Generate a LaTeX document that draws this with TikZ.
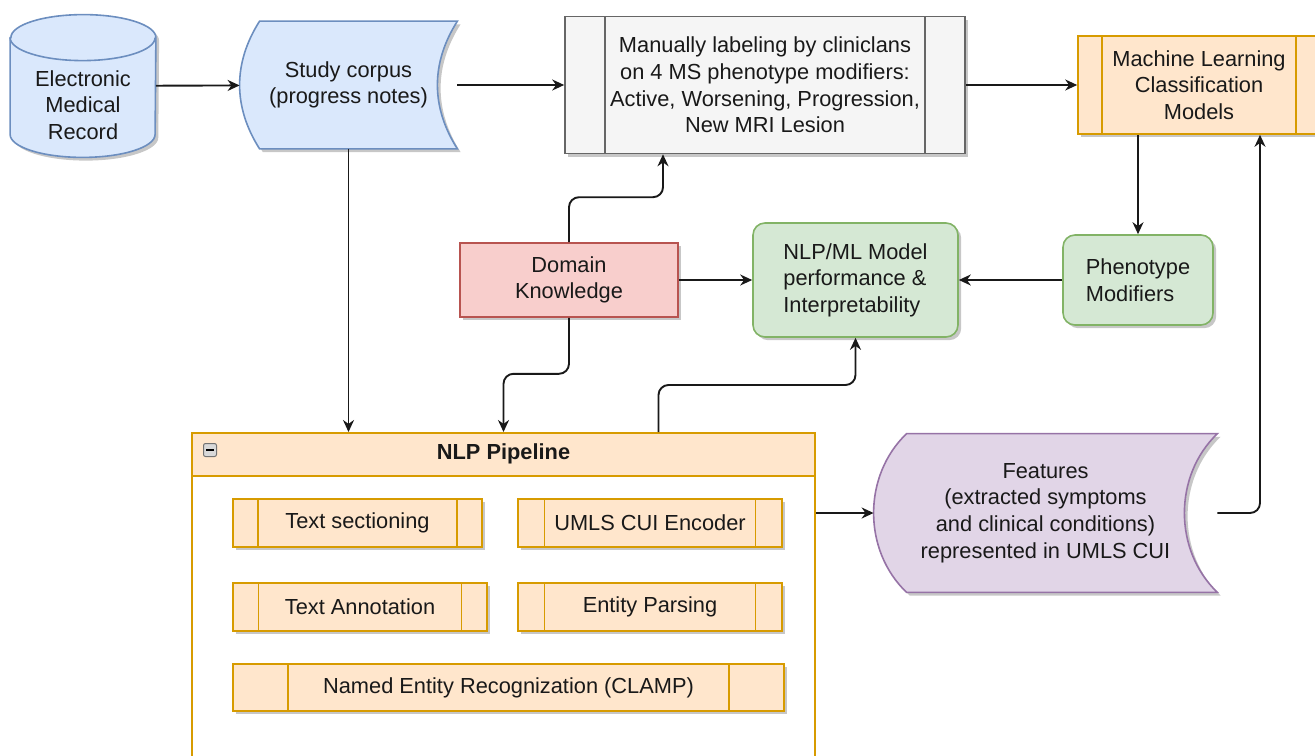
\documentclass[tikz,border=0pt]{standalone}
\usepackage{fontspec}
\setmainfont{Liberation Sans}
\usetikzlibrary{arrows.meta,positioning,calc,shadows,backgrounds}
\definecolor{bluefill}{HTML}{DAE8FC}\definecolor{blueline}{HTML}{6C8EBF}
\definecolor{grayfill}{HTML}{F5F5F5}\definecolor{grayline}{HTML}{666666}
\definecolor{orgfill}{HTML}{FFE6CC}\definecolor{orgline}{HTML}{D79B00}
\definecolor{grnfill}{HTML}{D5E8D4}\definecolor{grnline}{HTML}{82B366}
\definecolor{redfill}{HTML}{F8CECC}\definecolor{redline}{HTML}{B85450}
\definecolor{purfill}{HTML}{E1D5E7}\definecolor{purline}{HTML}{9673A6}
\newcommand{\storepath}[3]{($(#1.north west)+(#2,0)$) -- (#1.north east) .. controls ($(#1.north east)+({-4/3*#2},#3)$) and ($(#1.south east)+({-4/3*#2},-#3)$) .. (#1.south east) -- ($(#1.south west)+(#2,0)$) .. controls ($(#1.south west)+({-#2/3},-#3)$) and ($(#1.north west)+({-#2/3},#3)$) .. cycle}
\newcommand{\canpath}[3]{($(#1.north west)+(0,#3)$) -- ($(#1.south west)+(0,-#3)$) arc[start angle=180,end angle=0,x radius=#2,y radius=#3] -- ($(#1.north east)+(0,#3)$) arc[start angle=0,end angle=-180,x radius=#2,y radius=#3] -- cycle}
\begin{document}
\begin{tikzpicture}[
		x=0.5pt,y=-0.5pt,
		font=\fontsize{10.9}{13.3}\selectfont,
		box/.style={draw=#1,line width=0.8pt,align=center,inner sep=0pt,text=black!90},
		shadowed/.style={drop shadow={shadow xshift=1.6pt,shadow yshift=-1.6pt,fill=black,opacity=0.22}},
		proc/.style={box=#1,shadowed,path picture={
				\draw[#1,line width=0.8pt] ($(path picture bounding box.north west)!0.1!(path picture bounding box.north east)$) -- ($(path picture bounding box.south west)!0.1!(path picture bounding box.south east)$)
				($(path picture bounding box.north west)!0.9!(path picture bounding box.north east)$) -- ($(path picture bounding box.south west)!0.9!(path picture bounding box.south east)$);}},
		arr/.style={-{Stealth[length=6pt,width=5.5pt]},line width=0.95pt,black!90},
		elbow/.style={arr,rounded corners=5pt}
		]
		\useasboundingbox (0,0) rectangle (1315,755);
		\clip (0,0) rectangle (1315,755);
		
		\node[minimum width=72.5pt,minimum height=71pt,inner sep=0pt] (emr) at (83,86) {};
		\node[align=center,text=black!90] (emrtxt) at (83,105) {Electronic\\Medical\\Record};
		\node[align=center,text=black!90,minimum width=108.5pt,minimum height=63.5pt] (corpus) at (348.5,85) {Study corpus\\(progress notes)};
		\node[proc=grayline,fill=grayfill,minimum width=200pt,minimum height=68.5pt] (manual) at (765,85) {Manually labeling by cliniclans\\on 4 MS phenotype modifiers:\\Active, Worsening, Progression,\\New MRI Lesion};
		\node[proc=orgline,fill=orgfill,minimum width=121pt,minimum height=49pt] (ml) at (1199,85) {Machine Learning\\Classification\\Models};
		
		\node[box=redline,fill=redfill,shadowed,minimum width=109pt,minimum height=37pt] (domain) at (569,280) {Domain\\Knowledge};
		\node[box=grnline,fill=grnfill,shadowed,rounded corners=6pt,align=left,minimum width=102.5pt,minimum height=57pt] (perf) at (855.5,280) {NLP/ML Model\\performance \&\\Interpretability};
		\node[box=grnline,fill=grnfill,shadowed,rounded corners=6pt,align=left,minimum width=75pt,minimum height=45pt] (pheno) at (1138,280) {Phenotype\\Modifiers};
		
		\node[box=orgline,fill=white,anchor=north,minimum width=311.5pt,minimum height=175pt] (pipe) at (503.5,432) {};
		\node[box=orgline,fill=orgfill,anchor=north,minimum width=311.5pt,minimum height=21.5pt] (pipehead) at (503.5,432) {\bfseries NLP Pipeline};
		\node[draw=black!55,fill=black!15,rounded corners=1pt,minimum size=6.5pt,inner sep=0pt,line width=0.5pt] (fold) at (210,450) {};
		\draw[line width=1pt] ([xshift=-2pt]fold.center) -- ([xshift=2pt]fold.center);
		\node[proc=orgline,fill=orgfill,minimum width=124.5pt,minimum height=24pt] (sect) at (357.5,523) {Text sectioning};
		\node[proc=orgline,fill=orgfill,minimum width=132pt,minimum height=24pt] (umls) at (650,523) {UMLS CUI Encoder};
		\node[proc=orgline,fill=orgfill,minimum width=127pt,minimum height=24pt] (annot) at (360,607) {Text Annotation};
		\node[proc=orgline,fill=orgfill,minimum width=132pt,minimum height=24pt] (parse) at (650,607) {Entity Parsing};
		\node[proc=orgline,fill=orgfill,minimum width=275.5pt,minimum height=23.5pt] (ner) at (508.5,687.5) {Named Entity Recognization (CLAMP)};
		
		\node[align=center,text=black!90,minimum width=171.5pt,minimum height=79pt] (feat) at (1045.5,513) {Features\\(extracted symptoms\\and clinical conditions)\\represented in UMLS CUI};
		
		\begin{scope}[on background layer]
			\fill[black!22,transform canvas={shift={(1.6pt,-1.6pt)}}] \canpath{emr}{72.5}{23};
			\filldraw[fill=bluefill,draw=blueline,line width=0.8pt] \canpath{emr}{72.5}{23};
			\draw[blueline,line width=0.8pt] ($(emr.north west)+(0,23)$) arc[start angle=180,end angle=0,x radius=72.5,y radius=23];
			\fill[black!22,transform canvas={shift={(1.6pt,-1.6pt)}}] \storepath{corpus}{20}{42};
			\filldraw[fill=bluefill,draw=blueline,line width=0.8pt] \storepath{corpus}{20}{42};
			\fill[black!22,transform canvas={shift={(1.6pt,-1.6pt)}}] \storepath{feat}{33}{42};
			\filldraw[fill=purfill,draw=purline,line width=0.8pt] \storepath{feat}{33}{42};
		\end{scope}
		
		\draw[arr] (emr) -- (corpus);
		\draw[arr] (corpus) -- (manual);
		\draw[arr] (manual) -- (ml);
		\draw[arr] (pheno |- ml.south) -- (pheno);
		\draw[arr] (pheno) -- (perf);
		\draw[arr] (domain) -- (perf);
		\draw[elbow] (domain.north) -- ++(0,-45) -| ([shift={(-102,0)}]manual.south);
		\draw[elbow] (domain.south) -- ++(0,56) -| (pipehead.north);
		\draw[elbow] ([shift={(155,0)}]pipehead.north) -- ++(0,-47) -| (perf.south);
		\draw[arr] (corpus.south) -- (corpus.south |- pipehead.north);
		\draw[arr] (feat.west -| pipe.east) -- (feat.west);
		\draw[elbow] (feat.east) -| ([shift={(61,0)}]ml.south);
	\end{tikzpicture}
\end{document}
